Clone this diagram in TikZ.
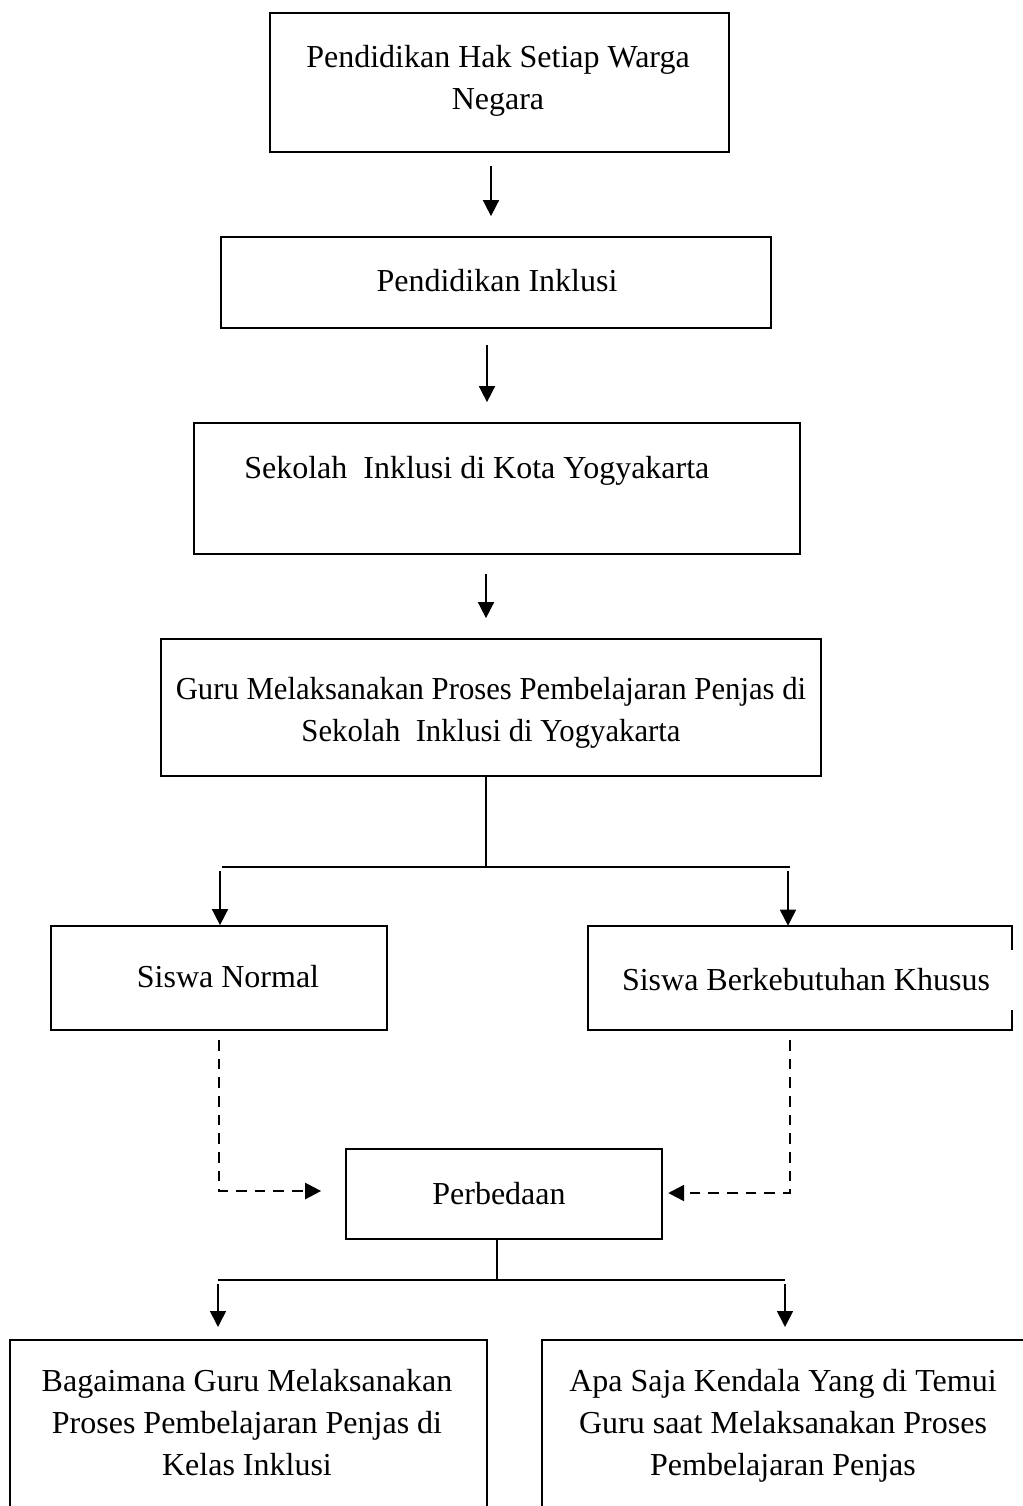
\documentclass[tikz,border=0pt]{standalone}
\usepackage{fontspec}
\setmainfont{Liberation Serif}
\usetikzlibrary{arrows.meta,fit}
\begin{document}
\begin{tikzpicture}[x=0.75pt,y=-0.75pt,
  box/.style={draw,line width=1.3pt,inner sep=0pt},
  txt/.style={font=\fontsize{24}{31.5}\selectfont,align=center,inner sep=0pt,anchor=base},
  arr/.style={line width=1.2pt,-{Triangle[length=12pt,width=12pt]}},
  dsh/.style={line width=1.8pt,dash pattern=on 8pt off 6pt,-{Triangle[length=12pt,width=12pt]}},
  ln/.style={line width=1.2pt}]
\useasboundingbox (0,0) rectangle (1023,1506);
% boxes
\node[box,fit={(270,13) (729,152)}] (b1) {};
\node[box,fit={(221,237) (771,328)}] (b2) {};
\node[box,fit={(194,423) (800,554)}] (b3) {};
\node[box,fit={(161,639) (821,776)}] (b4) {};
\node[box,fit={(51,926) (387,1030)}] (b5) {};
\node[inner sep=0pt,fit={(588,926) (1012,1030)}] (b6) {};
\draw[line width=1.3pt] (b6.east |- 0,950) -- (b6.north east) -- (b6.north west) -- (b6.south west) -- (b6.south east) -- (b6.east |- 0,1010);
\node[box,fit={(346,1149) (662,1239)}] (b7) {};
\coordinate (b8nw) at (10,1340);
\coordinate (b8ne) at (487,1340);
\coordinate (b9nw) at (542,1340);
\draw[line width=1.3pt] (b8nw |- 0,1506) -- (b8nw) -- (b8ne) -- (b8ne |- 0,1506);
\draw[line width=1.3pt] (b9nw |- 0,1506) -- (b9nw) -- (1023,1340);
% texts
\node[txt] (t1) at (498,109) {Pendidikan Hak Setiap Warga\\Negara};
\node[txt] (t2) at (497,291) {Pendidikan Inklusi};
\node[txt,anchor=base west] (t3) at (244,478) {Sekolah\ \ Inklusi di Kota Yogyakarta};
\node[txt,xscale=0.96] (t4) at (491,741) {Guru Melaksanakan Proses Pembelajaran Penjas di\\Sekolah\ \ Inklusi di Yogyakarta};
\node[txt] (t5) at (228,987) {Siswa Normal};
\node[txt] (t6) at (806,990) {Siswa Berkebutuhan Khusus};
\node[txt] (t7) at (499,1204) {Perbedaan};
\node[txt] (t8) at (247,1475) {Bagaimana Guru Melaksanakan\\Proses Pembelajaran Penjas di\\Kelas Inklusi};
\node[txt] (t9) at (783,1475) {Apa Saja Kendala Yang di Temui\\Guru saat Melaksanakan Proses\\Pembelajaran Penjas};
% arrows
\draw[arr,shorten <=10,shorten >=15] (491,0 |- b1.south) -- (491,0 |- b2.north);
\draw[arr,shorten <=12,shorten >=15] (487,0 |- b2.south) -- (487,0 |- b3.north);
\draw[arr,shorten <=14,shorten >=15] (486,0 |- b3.south) -- (486,0 |- b4.north);
% split 1
\coordinate (j1) at (486,867);
\coordinate (l1) at (222,867);
\coordinate (r1) at (790,867);
\draw[ln] (486,0 |- b4.south) -- (j1);
\draw[ln] (l1) -- (r1);
\draw[arr] (220,871) -- (220,0 |- b5.north);
\draw[arr] (788,871) -- (788,0 |- b6.north);
% dashed
\coordinate (dl) at (219,1191);
\coordinate (dr) at (790,1193);
\draw[dsh,shorten >=18] (219,1040) -- (dl) -- (dl -| b7.west);
\draw[dsh,shorten >=4] (790,1040) -- (dr) -- (dr -| b7.east);
% split 2
\coordinate (j2) at (497,1280);
\draw[ln] (497,0 |- b7.south) -- (j2);
\draw[ln] (218,1280) -- (785,1280);
\draw[arr] (218,1284) -- (218,1327);
\draw[arr] (785,1284) -- (785,1327);
\end{tikzpicture}
\end{document}
